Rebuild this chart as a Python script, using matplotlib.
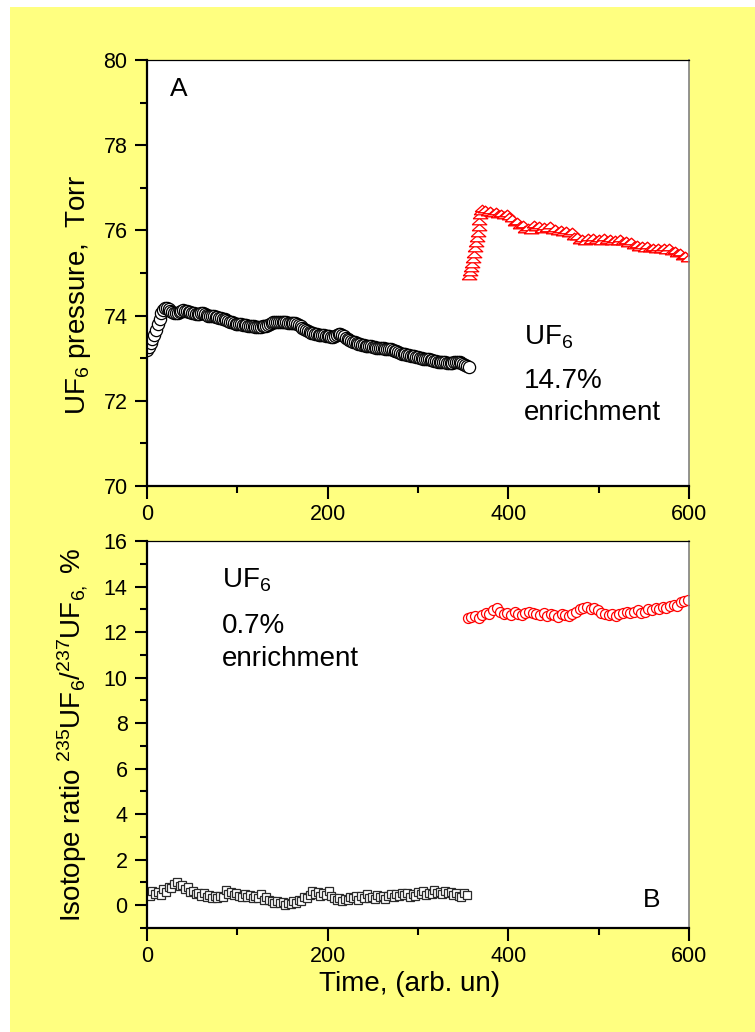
import numpy as np
import matplotlib
matplotlib.use("Agg")
import matplotlib.pyplot as plt
from matplotlib.patches import Rectangle

plt.rcParams['font.family'] = ['Liberation Sans', 'DejaVu Sans']
plt.rcParams['mathtext.fontset'] = 'custom'
plt.rcParams['mathtext.rm'] = 'Liberation Sans'
plt.rcParams['mathtext.it'] = 'Liberation Sans:italic'

# panel A: UF6 pressure, 0.7% sample (black circles), time step 2
p_low_t0, p_low_dt = 0, 2
p_low = [73.20, 73.27, 73.35, 73.44, 73.55, 73.67, 73.80, 73.93, 74.05, 74.12,
         74.17, 74.18, 74.15, 74.11, 74.08, 74.06, 74.05, 74.06, 74.08, 74.11,
         74.12, 74.11, 74.10, 74.09, 74.08, 74.06, 74.05, 74.04, 74.03, 74.04,
         74.05, 74.05, 74.04, 74.02, 74.00, 73.99, 73.98, 73.98, 73.97, 73.96,
         73.95, 73.94, 73.93, 73.92, 73.90, 73.88, 73.86, 73.84, 73.83, 73.81,
         73.80, 73.80, 73.80, 73.79, 73.78, 73.77, 73.76, 73.76, 73.76, 73.75,
         73.74, 73.73, 73.73, 73.74, 73.75, 73.75, 73.76, 73.78, 73.80, 73.82,
         73.84, 73.85, 73.86, 73.86, 73.86, 73.85, 73.84, 73.84, 73.83, 73.82,
         73.82, 73.82, 73.82, 73.80, 73.78, 73.75, 73.72, 73.69, 73.66, 73.64,
         73.62, 73.60, 73.58, 73.57, 73.56, 73.55, 73.55, 73.55, 73.55, 73.53,
         73.52, 73.51, 73.50, 73.50, 73.52, 73.54, 73.56, 73.56, 73.55, 73.52,
         73.48, 73.45, 73.42, 73.40, 73.38, 73.37, 73.36, 73.34, 73.33, 73.31,
         73.30, 73.29, 73.28, 73.28, 73.28, 73.27, 73.26, 73.25, 73.25, 73.24,
         73.24, 73.23, 73.22, 73.22, 73.22, 73.21, 73.20, 73.18, 73.16, 73.14,
         73.12, 73.11, 73.10, 73.09, 73.08, 73.07, 73.06, 73.05, 73.04, 73.03,
         73.02, 73.01, 73.00, 72.99, 72.99, 72.98, 72.97, 72.96, 72.95, 72.94,
         72.93, 72.92, 72.92, 72.91, 72.90, 72.90, 72.89, 72.89, 72.89, 72.89,
         72.90, 72.91, 72.92, 72.91, 72.89, 72.87, 72.85, 72.82, 72.80]

# panel A: 14.7% sample (red triangles), fill ramp step 1 then step 3
p_high_ramp_t0 = 357
p_high_ramp = [74.92, 75.02, 75.12, 75.22, 75.33, 75.45, 75.58, 75.70, 75.82,
               75.95, 76.08, 76.22, 76.35, 76.45, 76.52]
p_high_t0, p_high_dt = 374, 3
p_high = [76.50, 76.44, 76.48, 76.40, 76.46, 76.38, 76.42, 76.36, 76.42, 76.34,
          76.28, 76.20, 76.22, 76.12, 76.14, 76.04, 76.08, 76.02, 76.14, 76.08,
          76.12, 76.04, 76.10, 76.06, 76.12, 76.00, 76.06, 75.98, 76.04, 75.96,
          76.02, 75.94, 75.98, 75.88, 75.86, 75.78, 75.82, 75.76, 75.84, 75.78,
          75.84, 75.78, 75.82, 75.76, 75.84, 75.78, 75.82, 75.74, 75.80, 75.74,
          75.82, 75.74, 75.78, 75.70, 75.74, 75.66, 75.68, 75.60, 75.66, 75.58,
          75.66, 75.58, 75.62, 75.56, 75.62, 75.56, 75.60, 75.54, 75.60, 75.52,
          75.54, 75.46, 75.50, 75.40, 75.42, 75.36]

# panel B: isotope ratio, 0.7% sample (black squares), time step 3
r_low_t0, r_low_dt = 0, 3
r_low = [0.50, 0.40, 0.62, 0.48, 0.58, 0.45, 0.70, 0.60, 0.82, 0.75,
         0.95, 1.02, 0.85, 0.90, 0.70, 0.78, 0.58, 0.62, 0.48, 0.55,
         0.42, 0.52, 0.38, 0.45, 0.32, 0.40, 0.30, 0.42, 0.35, 0.68,
         0.50, 0.60, 0.45, 0.55, 0.42, 0.35, 0.48, 0.38, 0.45, 0.32,
         0.42, 0.30, 0.48, 0.25, 0.35, 0.22, 0.18, 0.12, 0.20, 0.08,
         0.15, 0.02, 0.12, 0.05, 0.18, 0.10, 0.25, 0.18, 0.35, 0.30,
         0.45, 0.62, 0.50, 0.58, 0.40, 0.52, 0.45, 0.62, 0.40, 0.32,
         0.22, 0.30, 0.18, 0.28, 0.22, 0.38, 0.30, 0.42, 0.25, 0.40,
         0.32, 0.48, 0.30, 0.38, 0.28, 0.45, 0.35, 0.42, 0.28, 0.40,
         0.48, 0.35, 0.50, 0.40, 0.55, 0.45, 0.52, 0.38, 0.50, 0.42,
         0.58, 0.48, 0.62, 0.45, 0.55, 0.50, 0.65, 0.52, 0.58, 0.48,
         0.62, 0.52, 0.58, 0.45, 0.55, 0.40, 0.35, 0.52, 0.45]

# panel B: 14.7% sample (red circles), time step 4
r_high_t0, r_high_dt = 355, 4
r_high = [12.60, 12.65, 12.70, 12.62, 12.75, 12.85, 12.80, 12.95, 13.05, 12.90,
          12.80, 12.85, 12.75, 12.90, 12.80, 12.75, 12.85, 12.90, 12.85, 12.80,
          12.75, 12.85, 12.70, 12.80, 12.75, 12.65, 12.80, 12.75, 12.70, 12.80,
          12.90, 13.00, 13.05, 13.10, 13.00, 13.05, 12.95, 12.85, 12.80, 12.75,
          12.80, 12.70, 12.80, 12.85, 12.90, 12.85, 12.90, 12.95, 12.85, 12.90,
          13.00, 12.95, 13.05, 13.00, 13.10, 13.05, 13.15, 13.20, 13.15, 13.30,
          13.35, 13.40]


def times(t0, dt, vals):
    return t0 + dt * np.arange(len(vals))


W, H = 755, 1032
fig = plt.figure(figsize=(W / 100, H / 100), dpi=100, facecolor='white')
fig.patches.append(Rectangle((10 / W, 0), 1 - 10 / W, 1 - 7 / H,
                             transform=fig.transFigure, facecolor='#FFFF80',
                             edgecolor='none', zorder=-10))

def px_axes(x0, y0, x1, y1):
    return fig.add_axes([x0 / W, 1 - y1 / H, (x1 - x0) / W, (y1 - y0) / H])

ax1 = px_axes(147, 60, 689, 486)
ax2 = px_axes(147, 541, 689, 928)

tri = [(-1, -0.45), (1, -0.45), (0, 0.45), (-1, -0.45)]

ax1.plot(times(p_low_t0, p_low_dt, p_low), p_low, ls='none', marker='o', ms=8.8,
         mfc='white', mec='black', mew=0.9)
ax1.plot(times(p_high_ramp_t0, 1, p_high_ramp), p_high_ramp, ls='none', marker=tri,
         ms=10.5, mfc='white', mec='red', mew=0.9)
ax1.plot(times(p_high_t0, p_high_dt, p_high), p_high, ls='none', marker=tri,
         ms=10.5, mfc='white', mec='red', mew=1.0)

ax2.plot(times(r_low_t0, r_low_dt, r_low), r_low, ls='none', marker='s', ms=5.2,
         mfc='white', mec='#2a2a2a', mew=0.9)
ax2.plot(times(r_high_t0, r_high_dt, r_high), r_high, ls='none', marker='o', ms=7.2,
         mfc='white', mec='red', mew=0.9)

ax1.set_ylim(70, 80)
ax1.set_yticks(np.arange(70, 81, 2))
ax1.set_yticks(np.arange(71, 80, 2), minor=True)
ax2.set_ylim(-1, 16)
ax2.set_yticks(np.arange(0, 17, 2))
ax2.set_yticks(np.arange(-1, 16, 2), minor=True)

for ax in (ax1, ax2):
    ax.set_xlim(0, 600)
    ax.set_xticks([0, 200, 400, 600])
    ax.set_xticks([100, 300, 500], minor=True)
    ax.tick_params(which='major', direction='out', length=9, width=1.5,
                   labelsize=15.5, pad=4)
    ax.tick_params(which='minor', direction='out', length=5, width=1.5)
    ax.tick_params(axis='y', which='major', pad=5)
    ax.spines['left'].set_linewidth(1.6)
    ax.spines['bottom'].set_linewidth(1.6)
    ax.spines['top'].set_linewidth(0.9)
    ax.spines['right'].set_linewidth(1.2)
    ax.spines['right'].set_color('#808080')
    ax.set_facecolor('white')

ax1.set_ylabel(r'UF$_6$ pressure,  Torr', fontsize=20)
ax1.yaxis.set_label_coords(-0.10, 0.448)
ax2.set_ylabel(r'Isotope ratio $^{235}$UF$_6$/$^{237}$UF$_{6,}$ %', fontsize=20)
ax2.yaxis.set_label_coords(-0.105, 0.5)
ax2.set_xlabel('Time, (arb. un)', fontsize=20)
ax2.xaxis.set_label_coords(0.485, -0.11)

ax1.text(0.042, 0.915, 'A', transform=ax1.transAxes, fontsize=19, va='baseline')
ax2.text(0.915, 0.054, 'B', transform=ax2.transAxes, fontsize=19, va='baseline')

for ax, x, ys, pct in ((ax1, 0.696, (0.331, 0.230, 0.155), '14.7%'),
                       (ax2, 0.138, (0.879, 0.762, 0.677), '0.7%')):
    ax.text(x, ys[0], r'UF$_6$', transform=ax.transAxes, fontsize=20, va='baseline')
    ax.text(x, ys[1], pct, transform=ax.transAxes, fontsize=20, va='baseline')
    ax.text(x, ys[2], 'enrichment', transform=ax.transAxes, fontsize=20, va='baseline')

fig.savefig('out.png', dpi=100, facecolor=fig.get_facecolor())
